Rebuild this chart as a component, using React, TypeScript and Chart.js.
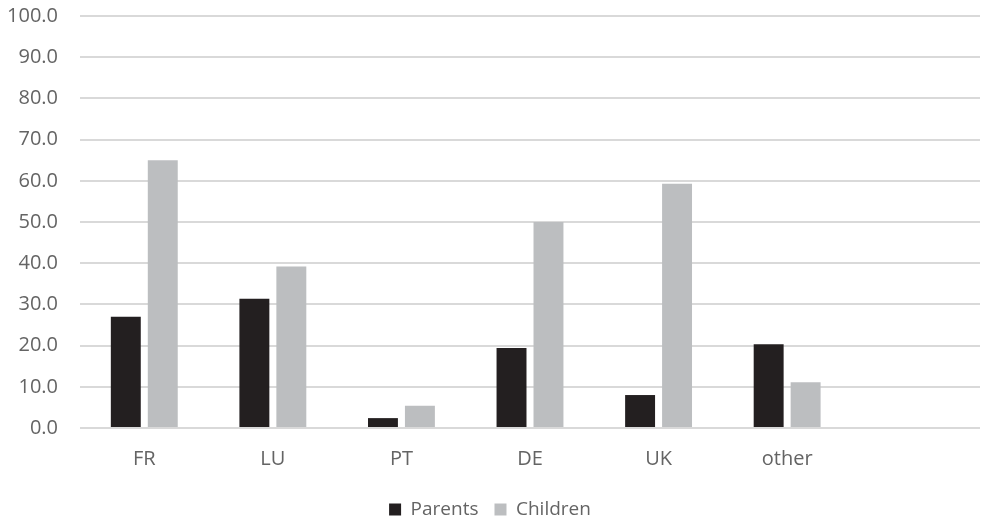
import React, { useEffect, useRef } from "react";
import { Chart, registerables } from "chart.js";

Chart.register(...registerables);

// Share of each group, per country (the last slot is left empty on purpose)
const categories = ["FR", "LU", "PT", "DE", "UK", "other", ""];
const parents = [27.0, 31.4, 2.4, 19.4, 8.0, 20.3, null];
const children = [65.0, 39.2, 5.4, 50.0, 59.3, 11.1, null];
const yTicks = [0, 10, 20, 30, 40, 50, 60, 70, 80, 90, 100];

const FONT = "'Open Sans', 'Noto Sans', sans-serif";
const TEXT = "#646464";

export default function App() {
  const ref = useRef<HTMLCanvasElement | null>(null);

  useEffect(() => {
    if (!ref.current) return;
    const chart = new Chart(ref.current, {
      type: "bar",
      data: {
        labels: categories,
        datasets: [
          {
            label: "Parents",
            data: parents,
            backgroundColor: "#231f20",
            barPercentage: 0.81,
            categoryPercentage: 0.575,
          },
          {
            label: "Children",
            data: children,
            backgroundColor: "#bcbec0",
            barPercentage: 0.81,
            categoryPercentage: 0.575,
          },
        ],
      },
      options: {
        animation: false,
        responsive: false,
        maintainAspectRatio: false,
        layout: { padding: { top: 16, left: 0, right: 2, bottom: -9 } },
        plugins: {
          tooltip: { enabled: false },
          legend: {
            position: "bottom",
            labels: {
              boxWidth: 12,
              boxHeight: 12,
              padding: 16,
              color: TEXT,
              font: { family: FONT, size: 19 },
            },
          },
        },
        scales: {
          x: {
            grid: { display: false, drawTicks: false },
            border: { display: false },
            ticks: {
              color: TEXT,
              font: { family: FONT, size: 20 },
              padding: 19,
              maxRotation: 0,
            },
            afterFit: (s: any) => {
              s.height = 56;
              s.paddingLeft = 0;
              s.paddingRight = 0;
            },
          },
          y: {
            min: 0,
            max: 100,
            afterBuildTicks: (s: any) => {
              s.ticks = yTicks.map((v) => ({ value: v }));
            },
            grid: { color: "#d9d9d9", lineWidth: 2, drawTicks: false },
            border: { display: false },
            ticks: {
              color: TEXT,
              font: { family: FONT, size: 20 },
              padding: 22,
              callback: (v: any) => Number(v).toFixed(1),
            },
            afterFit: (s: any) => {
              s.width = 80;
              s.paddingTop = 0;
              s.paddingBottom = 0;
            },
          },
        },
      },
    });
    return () => chart.destroy();
  }, []);

  return (
    <div style={{ position: "fixed", left: 0, top: 0, width: 982, height: 520, background: "#fff" }}>
      <canvas ref={ref} width={982} height={520} style={{ width: 982, height: 520 }} />
    </div>
  );
}
